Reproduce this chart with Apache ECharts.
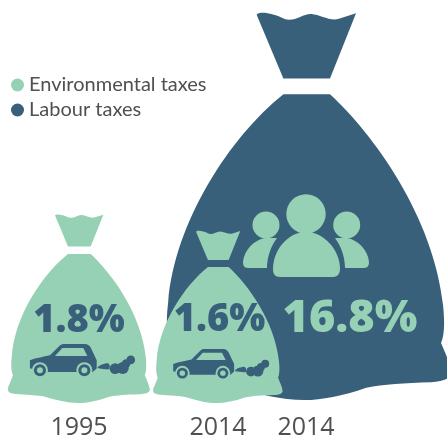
<!DOCTYPE html>
<html>
<head>
<meta charset="utf-8">
<style>html,body{margin:0;padding:0;background:#fff}#chart{width:447px;height:439px}</style>
<script src="https://cdn.jsdelivr.net/npm/echarts@6/dist/echarts.min.js"></script>
</head>
<body>
<div id="chart"></div>
<script>
// Tax shares of GDP, per cent
const seriesNames = ['Environmental taxes', 'Labour taxes'];
const yearLabels = ['1995', '2014', '2014'];
const environmentalShares = [1.8, 1.6];
const labourShares = [16.8];

const GREEN = '#97d1b5';
const BLUE = '#39607a';

// Bag outline, drawn in a local frame 566 units tall with x = 0 on the knot centre
const BAG_H = 566;
const KNOT = 'M-72,4 C-68,-2 -47,2 -32,10 C-17,16 -5,2 8,3 C21,4 35,14 48,10 L73,2 L35,97 L-33,97 Z';
const BODY = 'M-33,120 L35,120 C98,178 186,298 200,428 C203,458 201,473 197,483 ' +
  'C201,493 213,518 212,528 C210,536 198,539 183,540 C143,541 113,543 88,548 ' +
  'C53,560 23,566 -2,566 C-37,566 -67,558 -107,546 C-137,541 -177,540 -197,538 ' +
  'C-212,536 -215,528 -212,518 C-207,506 -201,493 -198,483 C-204,468 -204,448 -201,423 ' +
  'C-192,308 -112,183 -33,120 Z';

// Car and exhaust, same local frame
const CAR = 'M-147,438 C-127,430 -107,428 -87,423 L-59,395 C-55,390 -49,389 -42,389 L18,389 ' +
  'C25,389 31,393 35,400 L53,438 L53,463 L41,473 L-105,473 L-147,462 Z';
const CAR_WINDOW = 'M-72,425 L-50,401 L13,401 L25,425 Z';
const EXHAUST = 'M55,461 C62,450 75,449 88,448 L92,465 C75,465 65,463 55,461 Z';
const PUFFS = [[83, 456, 9], [108, 463, 16], [131, 461, 18], [141, 448, 13], [155, 437, 13]];
const WHEELS = [-117, 16];
const WHEEL_Y = 468;

// People group, local frame 388 units tall with x = 0 on the knot centre
const PEOPLE_HEADS = [[0, 202, 19.7], [-40, 213, 13.5], [40.7, 213, 13.5]];
const PEOPLE_BODIES = [
  'M-33,257 C-33,238 -18,220 0,220 C18,220 34,238 34,257 C34,262 31,265 27,265 L-26,265 C-31,265 -33,262 -33,257 Z',
  'M-29,226 C-35,234 -39,245 -39,256 L-58,256 C-62,256 -63,253 -63,250 C-62,238 -52,228 -41,226 Z',
  'M29,226 C35,234 39,245 39,256 L58,256 C62,256 63,253 63,250 C62,238 52,228 41,226 Z'
];

function circle(cx, cy, r, fill) {
  return { type: 'circle', shape: { cx, cy, r }, style: { fill } };
}
function path(pathData, fill) {
  return { type: 'path', shape: { pathData }, style: { fill } };
}

function carIcon() {
  const parts = [path(CAR, BLUE), path(CAR_WINDOW, GREEN), path(EXHAUST, BLUE)];
  PUFFS.forEach(function (p) { parts.push(circle(p[0], p[1], p[2], BLUE)); });
  WHEELS.forEach(function (x) {
    parts.push(circle(x, WHEEL_Y, 24, GREEN), circle(x, WHEEL_Y, 18, BLUE), circle(x, WHEEL_Y, 9, GREEN));
  });
  return parts;
}

function peopleIcon() {
  const parts = PEOPLE_BODIES.map(function (d) { return path(d, GREEN); });
  PEOPLE_HEADS.forEach(function (h) { parts.push(circle(h[0], h[1], h[2], GREEN)); });
  return parts;
}

// Bag height follows the cube root of the share, so bag volume tracks the value
function bagRenderer(fill, look) {
  return function (params, api) {
    const share = api.value(1);
    const top = api.coord([api.value(0), Math.cbrt(share)]);
    const base = api.coord([api.value(0), 0]);
    const height = base[1] - top[1];
    const cx = top[0];
    const s = height / BAG_H;
    const children = [{
      type: 'group', x: cx, y: top[1], scaleX: s, scaleY: s,
      children: [path(KNOT, fill), path(BODY, fill)].concat(look.icon === 'car' ? carIcon() : [])
    }];
    if (look.icon === 'people') {
      const p = height / 388;
      children.push({ type: 'group', x: cx, y: top[1], scaleX: p, scaleY: p, children: peopleIcon() });
    }
    children.push({
      type: 'text',
      style: {
        text: share.toFixed(1) + '%',
        x: cx + look.labelDx,
        y: base[1] - look.labelUp,
        fill: look.labelColor,
        font: '800 ' + look.fontSize + 'px "Open Sans", sans-serif',
        align: 'center',
        verticalAlign: 'middle'
      }
    });
    return { type: 'group', children };
  };
}

const panels = [
  { center: 79, bottom: 36, height: 466.1, year: yearLabels[0], name: seriesNames[0], value: environmentalShares[0], fill: GREEN, margin: 12, z: 2,
    look: { icon: 'car', labelDx: 0, labelUp: 82, labelColor: BLUE, fontSize: 38 } },
  { center: 306, bottom: 39, height: 454.5, year: yearLabels[2], name: seriesNames[1], value: labourShares[0], fill: BLUE, margin: 15, z: 1,
    look: { icon: 'people', labelDx: 44, labelUp: 81, labelColor: GREEN, fontSize: 45 } },
  { center: 218, bottom: 36, height: 442.5, year: yearLabels[1], name: seriesNames[0], value: environmentalShares[1], fill: GREEN, margin: 12, z: 3,
    look: { icon: 'car', labelDx: 1.5, labelUp: 83, labelColor: BLUE, fontSize: 38 } }
];

const option = {
  animation: false,
  backgroundColor: '#fff',
  legend: {
    orient: 'vertical',
    left: 6,
    top: 70,
    itemWidth: 13,
    itemHeight: 13,
    itemGap: 5,
    icon: 'circle',
    data: seriesNames,
    textStyle: { fontFamily: 'Lato, sans-serif', fontSize: 20, color: '#505050' },
    selectedMode: false
  },
  grid: panels.map(function (p) {
    return { left: p.center - 50, width: 100, bottom: p.bottom, height: p.height, outerBoundsMode: 'none' };
  }),
  xAxis: panels.map(function (p, i) {
    return {
      type: 'category', gridIndex: i, data: [p.year],
      axisLine: { show: false }, axisTick: { show: false },
      axisLabel: { margin: p.margin, fontFamily: '"Open Sans", sans-serif', fontSize: 25, color: '#505050' }
    };
  }),
  yAxis: panels.map(function (p, i) {
    return { type: 'value', gridIndex: i, min: 0, max: 3, show: false };
  }),
  series: panels.map(function (p, i) {
    return {
      type: 'custom', name: p.name, xAxisIndex: i, yAxisIndex: i, z: p.z,
      coordinateSystem: 'cartesian2d', clip: false, silent: true,
      itemStyle: { color: p.fill },
      renderItem: bagRenderer(p.fill, p.look),
      encode: { x: 0, y: 1 },
      data: [[p.year, p.value]]
    };
  })
};

echarts.init(document.getElementById('chart'), null, { renderer: 'canvas' }).setOption(option);
</script>
</body>
</html>
